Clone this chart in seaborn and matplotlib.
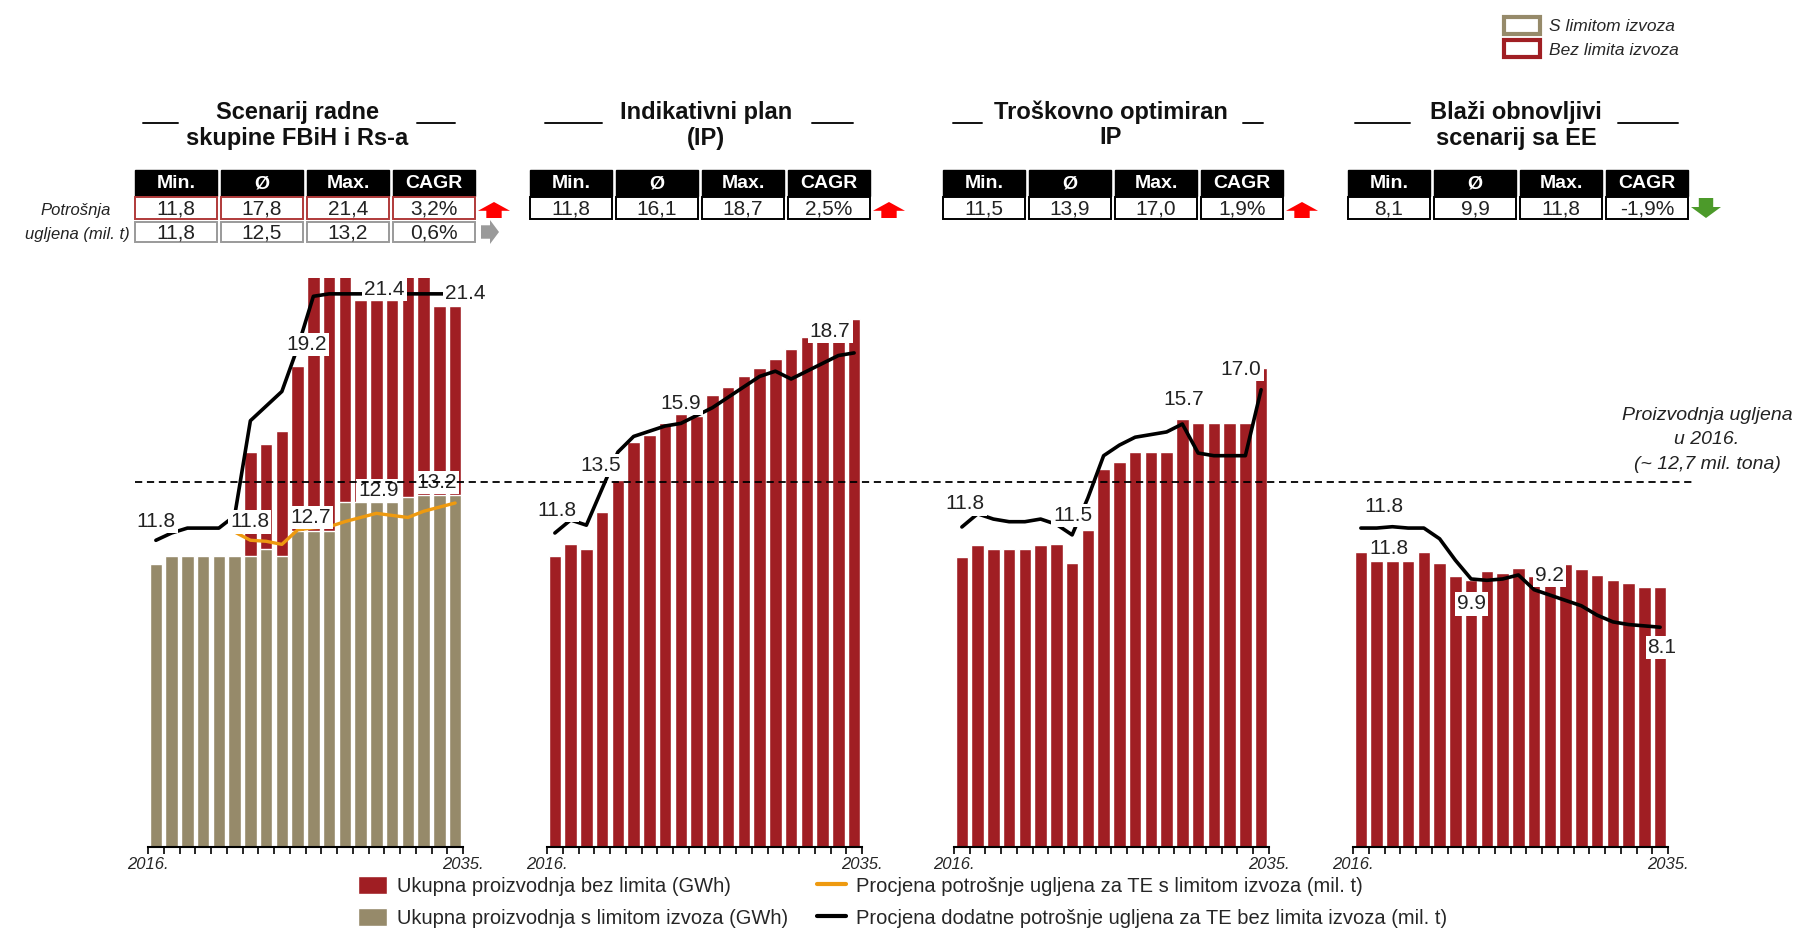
import numpy as np
import matplotlib.pyplot as plt
import seaborn as sns
from matplotlib.patches import Rectangle, Polygon, Patch
from matplotlib.lines import Line2D

# ---------------------------------------------------------------- data
YEARS = [str(y) for y in range(2016, 2036)]
nan = np.nan

# Ukupna proizvodnja (GWh)
prod_bez_fbih = [16400, 16900, 16900, 16900, 16900, 16900, 22900, 23400, 24100, 27900,
                 33500, 33500, 33500, 31700, 31700, 31700, 33500, 33500, 31400, 31400]
prod_s_fbih = [16400, 16900, 16900, 16900, 16900, 16900, 16900, 17300, 16900, 18300,
               18300, 18300, 20000, 20000, 20000, 20000, 20300, 20400, 20400, 20400]
prod_ip = [16900, 17600, 17300, 19400, 21300, 23500, 23900, 24600, 25100, 25000,
           26200, 26700, 27300, 27800, 28300, 28900, 29600, 29600, 29600, 30600]
prod_tro = [16800, 17500, 17300, 17300, 17300, 17500, 17600, 16500, 18400, 21900,
            22300, 22900, 22900, 22900, 24800, 24600, 24600, 24600, 24600, 27800]
prod_ee = [17100, 16600, 16600, 16600, 17100, 16500, 15700, 15500, 16000, 15900,
           16200, 15700, 15200, 16400, 16100, 15800, 15500, 15300, 15100, 15100]

# Procjena potrošnje ugljena (mil. t)
coal_bez_fbih = [11.3, 11.6, 11.8, 11.8, 11.8, 12.3, 16.2, 16.8, 17.4, 19.2,
                 21.3, 21.4, 21.4, 21.4, 21.4, 21.4, 21.4, 21.4, 21.4, 21.4]
coal_s_fbih = [nan, nan, nan, nan, nan, 11.8, 11.4, 11.35, 11.2, 11.9,
               12.0, 12.05, 12.3, 12.5, 12.7, 12.6, 12.5, 12.8, 13.0, 13.2]
coal_ip = [11.8, 12.3, 12.1, 13.5, 14.9, 15.5, 15.7, 15.9, 16.0, 16.3,
           16.6, 17.0, 17.4, 17.8, 18.0, 17.7, 18.0, 18.3, 18.6, 18.7]
coal_tro = [11.8, 12.3, 12.1, 12.0, 12.0, 12.1, 11.9, 11.5, 12.9, 14.5,
            14.9, 15.2, 15.3, 15.4, 15.7, 14.6, 14.5, 14.5, 14.5, 17.0]
coal_ee = [11.8, 11.8, 11.85, 11.8, 11.8, 11.4, 10.6, 9.9, 9.85, 9.9,
           10.05, 9.5, 9.3, 9.1, 8.9, 8.55, 8.3, 8.2, 8.15, 8.1]

TITLES = [("Scenarij radne", "skupine FBiH i Rs-a"),
          ("Indikativni plan", "(IP)"),
          ("Troškovno optimiran", "IP"),
          ("Blaži obnovljivi", "scenarij sa EE")]
HEADERS = ["Min.", "Ø", "Max.", "CAGR"]
stats_bez_fbih = ["11,8", "17,8", "21,4", "3,2%"]
stats_s_fbih = ["11,8", "12,5", "13,2", "0,6%"]
stats_ip = ["11,8", "16,1", "18,7", "2,5%"]
stats_tro = ["11,5", "13,9", "17,0", "1,9%"]
stats_ee = ["8,1", "9,9", "11,8", "-1,9%"]

# ---------------------------------------------------------------- style
RED = "#A01E23"
BEIGE = "#968A6A"
ORANGE = "#EE9A10"
GREY = "#9A9A9A"

sns.set_style("white")
plt.rcParams["font.family"] = ["Liberation Sans", "DejaVu Sans"]

W, H = 1798, 932


def fx(x):
    return x / W


def fy(y):
    return 1 - y / H


fig = plt.figure(figsize=(W / 100, H / 100), dpi=100)

AX_LEFTS = [148, 547, 954, 1353]
AX_W, AX_TOP, AX_BOTTOM = 315, 278, 847
BAR_YLIM = (0, 33000)
LINE_YLIM = [(-1.27, 22.05), (-0.23, 21.57), (-0.32, 21.23), (-0.10, 21.13)]
ORANGE_YLIM = (-3.42, 24.07)

panels = [
    dict(red=prod_bez_fbih, beige=prod_s_fbih, line=coal_bez_fbih, orange=coal_s_fbih,
         labels=[("11.8", "line", 0, 0, 19), ("11.8", "orange", 5, 15, 10),
                 ("19.2", "line", 9, 9, 3), ("21.4", "line", 14, 8, 4),
                 ("21.4", "line", 19, 10, 0), ("12.7", "orange", 10, -3, 10),
                 ("12.9", "orange", 14, 2, 23), ("13.2", "orange", 18, -3, 25)]),
    dict(red=prod_ip, beige=None, line=coal_ip, orange=None,
         labels=[("11.8", "line", 0, 2, 23), ("13.5", "line", 3, -1, 23),
                 ("15.9", "line", 8, 0, 20), ("18.7", "line", 19, -24, 21)]),
    dict(red=prod_tro, beige=None, line=coal_tro, orange=None,
         labels=[("11.8", "line", 0, 3, 23), ("11.5", "line", 7, 1, 19),
                 ("15.7", "line", 14, 1, 25), ("17.0", "line", 19, -20, 20)]),
    dict(red=prod_ee, beige=None, line=coal_ee, orange=None,
         labels=[("11.8", "line", 1, 7, 22), ("11.8", "line", 1, 12, -20),
                 ("9.9", "line", 7, 0, -25), ("9.2", "line", 12, 0, 20),
                 ("8.1", "line", 19, 2, -20)]),
]

label_box = dict(boxstyle="square,pad=0.1", fc="white", ec="none")

for k, p in enumerate(panels):
    ax = fig.add_axes([fx(AX_LEFTS[k]), fy(AX_BOTTOM), AX_W / W, (AX_BOTTOM - AX_TOP) / H])
    sns.barplot(x=YEARS, y=p["red"], color=RED, saturation=1, width=0.78,
                errorbar=None, ax=ax)
    if p["beige"] is not None:
        sns.barplot(x=YEARS, y=p["beige"], color=BEIGE, saturation=1, width=0.78,
                    errorbar=None, ax=ax)
    ax.set_ylim(BAR_YLIM)
    ax.set_xlim(-0.5, 19.5)
    ax.set_xlabel("")
    ax.set_ylabel("")
    ax.set_yticks([])
    ax.set_xticks(np.arange(-0.5, 20, 1))
    ax.set_xticklabels(["2016."] + [""] * 19 + ["2035."])
    ax.tick_params(axis="x", bottom=True, direction="out", length=5, width=1.2, pad=2,
                   labelsize=12, color="black")
    for lbl in ax.get_xticklabels():
        lbl.set_fontstyle("italic")
    for s in ["left", "top", "right"]:
        ax.spines[s].set_visible(False)
    ax.spines["bottom"].set_linewidth(1.5)
    ax.spines["bottom"].set_color("black")

    # coal consumption lines on their own (hidden) scale
    axl = ax.twinx()
    axl.set_ylim(LINE_YLIM[k])
    axl.set_xlim(-0.5, 19.5)
    axl.set_axis_off()
    sns.lineplot(x=np.arange(20), y=p["line"], color="black", lw=2.6, ax=axl)
    axes_for = {"line": (axl, p["line"])}

    if p["orange"] is not None:
        axo = ax.twinx()
        axo.set_ylim(ORANGE_YLIM)
        axo.set_xlim(-0.5, 19.5)
        axo.set_axis_off()
        sns.lineplot(x=np.arange(20), y=p["orange"], color=ORANGE, lw=2.4, ax=axo)
        axes_for["orange"] = (axo, p["orange"])

    for text, series, i, dx, dy in p["labels"]:
        a, vals = axes_for[series]
        a.annotate(text, xy=(i, vals[i]), xytext=(dx * 0.72, dy * 0.72),
                   textcoords="offset points", ha="center", va="center",
                   fontsize=15, color="#222222", bbox=label_box, zorder=6)

# ---------------------------------------------------------------- titles
TITLE_X = [297, 706, 1111, 1516]
TITLE_DASHES = [[(143, 178), (417, 455)], [(545, 602), (812, 853)],
                [(953, 982), (1243, 1263)], [(1355, 1410), (1618, 1678)]]
for k, (l1, l2) in enumerate(TITLES):
    fig.text(fx(TITLE_X[k]), fy(112), l1, ha="center", va="center",
             fontsize=17, fontweight="bold", color="#111111")
    fig.text(fx(TITLE_X[k]), fy(138), l2, ha="center", va="center",
             fontsize=17, fontweight="bold", color="#111111")
    for a, b in TITLE_DASHES[k]:
        fig.add_artist(Line2D([fx(a), fx(b)], [fy(123), fy(123)], color="#111111",
                              lw=1.4, transform=fig.transFigure))

# ---------------------------------------------------------------- stat tables
TABLE_LEFTS = [135, 530, 943, 1348]
COL_W, COL_PITCH = 82, 86
HEAD_TOP, HEAD_H = 170, 26
ROW_TOPS, ROW_H = [197, 222], [22, 20]

table_rows = [
    [(stats_bez_fbih, "#B03A3A", ("up", "red")), (stats_s_fbih, GREY, ("right", GREY))],
    [(stats_ip, "black", ("up", "red"))],
    [(stats_tro, "black", ("up", "red"))],
    [(stats_ee, "black", ("down", "#4C9A2A"))],
]

ARROW_SHAPES = {
    "up": [(0.5, 0), (1, 0.55), (0.74, 0.55), (0.74, 1), (0.26, 1), (0.26, 0.55), (0, 0.55)],
    "down": [(0.5, 1), (1, 0.45), (0.74, 0.45), (0.74, 0), (0.26, 0), (0.26, 0.45), (0, 0.45)],
    "right": [(1, 0.5), (0.5, 0), (0.5, 0.22), (0, 0.22), (0, 0.78), (0.5, 0.78), (0.5, 1)],
}
ARROW_BOX = {"up": (32, 16), "down": (30, 20), "right": (18, 24)}


def box(x, y, w, h, **kw):
    fig.add_artist(Rectangle((fx(x), fy(y + h)), w / W, h / H,
                             transform=fig.transFigure, **kw))


for k, rows in enumerate(table_rows):
    left = TABLE_LEFTS[k]
    for j, head in enumerate(HEADERS):
        x = left + j * COL_PITCH
        box(x, HEAD_TOP, COL_W, HEAD_H, facecolor="black", edgecolor="black")
        fig.text(fx(x + COL_W / 2), fy(HEAD_TOP + HEAD_H / 2 + 1), head, ha="center",
                 va="center", color="white", fontsize=14, fontweight="bold")
    for r, (vals, ec, (kind, acol)) in enumerate(rows):
        top, h = ROW_TOPS[r], ROW_H[r]
        for j, v in enumerate(vals):
            x = left + j * COL_PITCH
            box(x, top, COL_W, h, facecolor="white", edgecolor=ec, lw=1.4)
            fig.text(fx(x + COL_W / 2), fy(top + h / 2 + 1), v, ha="center", va="center",
                     fontsize=15, color="#222222")
        aw, ah = ARROW_BOX[kind]
        ax0 = left + 4 * COL_PITCH - 1 + (3 if kind == "right" else 0)
        ay0 = top + (h - ah) / 2 + (2 if kind == "up" else 0)
        pts = [(fx(ax0 + u * aw), fy(ay0 + v * ah)) for u, v in ARROW_SHAPES[kind]]
        fig.add_artist(Polygon(pts, closed=True, facecolor=acol, edgecolor="none",
                               transform=fig.transFigure))

fig.text(fx(76), fy(210), "Potrošnja", ha="center", va="center", fontsize=12,
         style="italic", color="#222222")
fig.text(fx(77), fy(235), "ugljena (mil. t)", ha="center", va="center", fontsize=12,
         style="italic", color="#222222")

# ---------------------------------------------------------------- reference line 2016
fig.add_artist(Line2D([fx(135), fx(1695)], [fy(482), fy(482)], color="black", lw=1.3,
                      ls=(0, (4, 2.6)), transform=fig.transFigure, zorder=10))
for yy, t in [(415, "Proizvodnja ugljena"), (440, "u 2016."), (465, "(~ 12,7 mil. tona)")]:
    fig.text(fx(1707), fy(yy), t, ha="center", va="center", fontsize=14,
             style="italic", color="#222222")

# ---------------------------------------------------------------- legends
top_handles = [Patch(facecolor="white", edgecolor=BEIGE, lw=3),
               Patch(facecolor="white", edgecolor=RED, lw=3)]
fig.legend(top_handles, ["S limitom izvoza", "Bez limita izvoza"], loc="upper left",
           bbox_to_anchor=(fx(1504), fy(17)), frameon=False, borderpad=0,
           borderaxespad=0, handlelength=2.1, handleheight=1.1, handletextpad=0.5,
           labelspacing=0.35, prop=dict(size=12.5, style="italic"))

bottom_handles = [Patch(facecolor=RED), Patch(facecolor=BEIGE),
                  Line2D([], [], color=ORANGE, lw=3), Line2D([], [], color="black", lw=3)]
bottom_labels = ["Ukupna proizvodnja bez limita (GWh)",
                 "Ukupna proizvodnja s limitom izvoza (GWh)",
                 "Procjena potrošnje ugljena za TE s limitom izvoza (mil. t)",
                 "Procjena dodatne potrošnje ugljena za TE bez limita izvoza (mil. t)"]
fig.legend(bottom_handles, bottom_labels, ncol=2, loc="upper left",
           bbox_to_anchor=(fx(358), fy(876)), frameon=False, borderpad=0,
           borderaxespad=0, handlelength=1.45, handleheight=1.0, handletextpad=0.5,
           columnspacing=1.4, labelspacing=0.62, fontsize=14.5)

fig.savefig("out.png", dpi=100)
